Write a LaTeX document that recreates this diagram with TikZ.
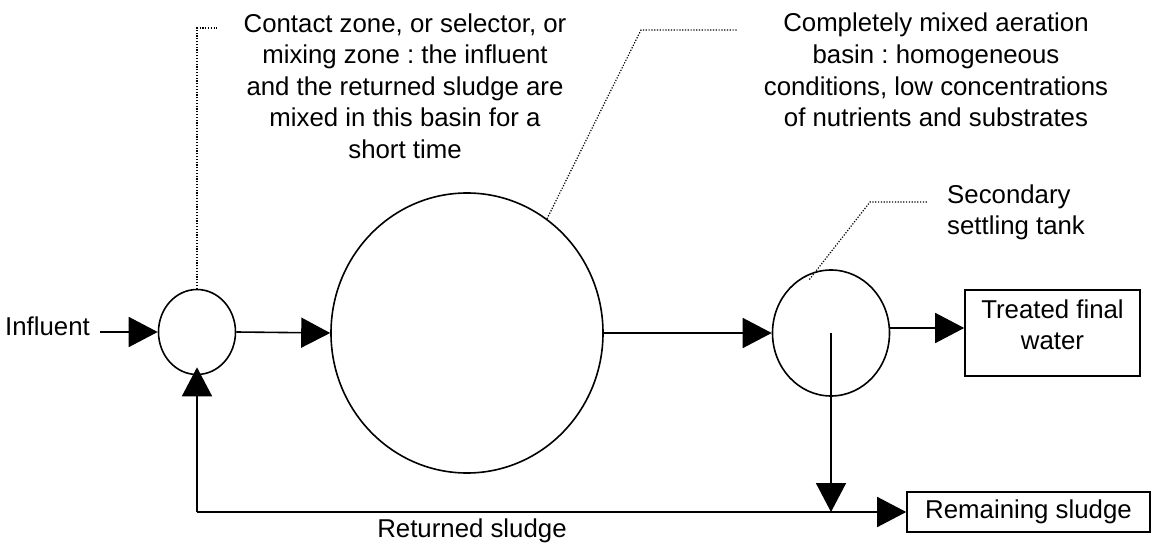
\documentclass[tikz,border=0pt]{standalone}
\usepackage{fontspec}
\setmainfont{Liberation Sans}
\usetikzlibrary{arrows.meta,shapes.geometric}
\frenchspacing
\begin{document}
\begin{tikzpicture}[x=1pt,y=-1pt,
  font=\fontsize{25.8}{31.6}\selectfont,
  tank/.style={draw,ellipse,line width=1.6pt,inner sep=0pt},
  box/.style={draw,rectangle,line width=1.6pt,inner sep=0pt},
  txt/.style={inner sep=0pt,align=center},
  flow/.style={line width=1.6pt,-{Triangle[length=29pt,width=30pt]}},
  lead/.style={line width=1.2pt,dash pattern=on 1.2pt off 1.6pt}]
\useasboundingbox (0,0) rectangle (1152,543);
% tanks
\node[tank,minimum width=77pt,minimum height=85pt] (contact) at (197,332) {};
\node[tank,minimum width=272pt,minimum height=280pt] (basin) at (467,333) {};
\node[tank,minimum width=117pt,minimum height=126pt] (settler) at (831,333) {};
% boxes
\node[box,minimum width=175pt,minimum height=86pt,
  label={[txt,yshift=8.3pt]center:Treated final\\water}] (treated) at (1052.5,333) {};
\node[box,minimum width=243pt,minimum height=40pt] (remaining) at (1028.5,512) {Remaining sludge};
% texts
\node[txt,anchor=base east] (influent) at (90,335) {Influent};
\node[txt,anchor=base] (returned) at (472,537) {Returned sludge};
\node[txt] (contactlbl) at (405,86) {Contact zone, or selector, or\\mixing zone : the influent\\and the returned sludge are\\mixed in this basin for a\\short time};
\node[txt] (basinlbl) at (936,70) {Completely mixed aeration\\basin : homogeneous\\conditions, low concentrations\\of nutrients and substrates};
\node[txt,align=left,anchor=west] (settlerlbl) at (947,212.3) {Secondary\\settling tank};
% flows
\coordinate (instart) at (100,332);
\draw[flow] (instart) -- (contact.west);
\draw[flow] (contact.east) -- (basin.west);
\draw[flow] (basin.east) -- (settler.west);
\draw[flow] ([yshift=5pt]settler.east) -- ([yshift=5pt]treated.west);
\coordinate (corner) at (contact.south |- remaining.west);
\draw[flow] (settler.center) -- (settler.center |- remaining.west);
\draw[flow] (corner) -- (remaining.west);
\draw[flow] (corner) -- ([yshift=8pt]contact.south);
% leaders
\coordinate (c1) at (197,28);
\coordinate (c2) at (217,28);
\draw[lead] (contact.north) -- (c1) -- (c2);
\coordinate (b1) at (641,30);
\coordinate (b2) at (738,30);
\draw[lead] (basin.55) -- (b1) -- (b2);
\coordinate (s1) at (870,202);
\coordinate (s2) at (927,202);
\draw[lead] ([shift={(2pt,-5pt)}]settler.112) -- (s1) -- (s2);
\end{tikzpicture}
\end{document}
